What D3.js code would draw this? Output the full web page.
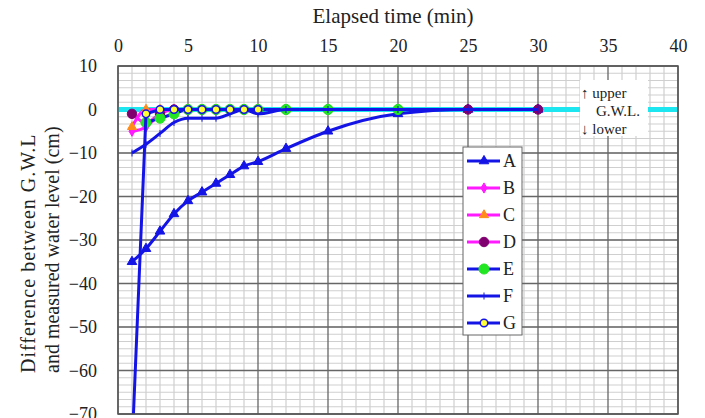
<!DOCTYPE html>
<html>
<head>
<meta charset="utf-8">
<script src="https://cdn.jsdelivr.net/npm/d3@7"></script>
<style>
  body { margin: 0; background: #fff; }
  text { font-family: "Liberation Serif", "Times New Roman", serif; fill: #222; }
</style>
</head>
<body>
<script>
// elapsed times (min) at which the level was read
var times = [1, 2, 3, 4, 5, 6, 7, 8, 9, 10, 12, 15, 20, 25, 30];

// difference between G.W.L and measured level (cm), null = no reading
var seriesA = [-35, -32, -28, -24, -21, -19, -17, -15, -13, -12, -9, -5, -1, 0, 0];
var seriesB = [-5, -4, -1, 0, 0, null, null, null, null, null, null, null, null, null, null];
var seriesC = [-4, 0, 0, null, null, null, null, null, null, null, null, null, null, null, null];
var seriesD = [-1, -3, -1, 0, 0, 0, 0, 0, 0, 0, 0, 0, 0, 0, 0];
var seriesE = [null, -3, -2, -1, 0, 0, 0, 0, 0, 0, 0, 0, 0, null, null];
var seriesF = [-10, -8, -5.5, -3, -2, -2, -2, -1, 0, -1, 0, 0, 0, 0, 0];
var seriesG = [-78, -1, 0, 0, 0, 0, 0, 0, 0, 0, null, null, null, null, null];

var seriesNames = ["A", "B", "C", "D", "E", "F", "G"];
var xTicks = [0, 5, 10, 15, 20, 25, 30, 35, 40];
var yTicks = [10, 0, -10, -20, -30, -40, -50, -60, -70];

var W = 705, H = 418;
var pLeft = 118, pRight = 678, pTop = 66, pBottom = 414;

var svg = d3.select("body").append("svg")
    .attr("width", W)
    .attr("height", H);

var x = d3.scaleLinear().domain([0, 40]).range([pLeft, pRight]);
var y = d3.scaleLinear().domain([-70, 10]).range([pBottom, pTop]);

// look of each series
var styles = {
  A: {line: "#1414e6", marker: "triangle", fill: "#1414e6", stroke: "#1414e6", size: 40},
  B: {line: "#ff1aff", marker: "diamond", fill: "#ff1aff", stroke: "#ff1aff", size: 30},
  C: {line: "#ff1aff", marker: "triangle", fill: "#ff8c1a", stroke: "#ff8c1a", size: 36},
  D: {line: "#ff1aff", marker: "circle", fill: "#800070", stroke: "#800070", size: 70},
  E: {line: "#1414e6", marker: "circle", fill: "#22e622", stroke: "#22e622", size: 80},
  F: {line: "#1414e6", marker: "tick", fill: "#1414e6", stroke: "#1414e6", size: 20},
  G: {line: "#1414e6", marker: "circle", fill: "#ffff33", stroke: "#1414e6", size: 45}
};
var values = {A: seriesA, B: seriesB, C: seriesC, D: seriesD, E: seriesE, F: seriesF, G: seriesG};

// grid
var grid = svg.append("g");
var minorX = d3.range(0, 41, 1);
var minorY = d3.range(0, 49).map(function(i) { return -70 + i * 10 / 6; });
grid.selectAll(".my").data(minorY).enter().append("line")
    .attr("x1", pLeft).attr("x2", pRight)
    .attr("y1", function(d) { return y(d); }).attr("y2", function(d) { return y(d); })
    .attr("stroke", "#cfcfcf").attr("stroke-width", 1.2);
grid.selectAll(".mx").data(minorX).enter().append("line")
    .attr("x1", function(d) { return x(d); }).attr("x2", function(d) { return x(d); })
    .attr("y1", pTop).attr("y2", pBottom)
    .attr("stroke", function(d) { return d % 5 === 0 ? "#666" : "#cfcfcf"; })
    .attr("stroke-width", function(d) { return d % 5 === 0 ? 1.3 : 1.2; });
grid.selectAll(".My").data(yTicks).enter().append("line")
    .attr("x1", pLeft).attr("x2", pRight)
    .attr("y1", function(d) { return y(d); }).attr("y2", function(d) { return y(d); })
    .attr("stroke", "#666").attr("stroke-width", 1.3);

// G.W.L. reference line
svg.append("line")
    .attr("x1", x(0)).attr("x2", x(40))
    .attr("y1", y(0)).attr("y2", y(0))
    .attr("stroke", "#1ee6f0").attr("stroke-width", 5);

svg.append("clipPath").attr("id", "plot")
  .append("rect").attr("x", pLeft).attr("y", pTop)
  .attr("width", pRight - pLeft).attr("height", pBottom - pTop);

var plot = svg.append("g").attr("clip-path", "url(#plot)");

function lineFor(name) {
  return d3.line()
    .defined(function(d) { return d[1] !== null; })
    .x(function(d) { return x(d[0]); })
    .y(function(d) { return y(d[1]); })
    .curve(name === "G" ? d3.curveLinear : d3.curveMonotoneX);
}

function symbolOf(name) {
  var s = styles[name];
  if (s.marker === "triangle") return d3.symbol().type(d3.symbolTriangle).size(s.size)();
  if (s.marker === "diamond") return d3.symbol().type(d3.symbolDiamond).size(s.size)();
  if (s.marker === "tick") return "M0,-3.5L0,3.5";
  return d3.symbol().type(d3.symbolCircle).size(s.size)();
}

seriesNames.forEach(function(name) {
  var pts = times.map(function(t, i) { return [t, values[name][i]]; });
  var s = styles[name];
  plot.append("path")
      .datum(pts)
      .attr("fill", "none")
      .attr("stroke", s.line)
      .attr("stroke-width", 3)
      .attr("d", lineFor(name));
  plot.selectAll(".m" + name)
      .data(pts.filter(function(d) { return d[1] !== null; }))
      .enter().append("path")
      .attr("transform", function(d) { return "translate(" + x(d[0]) + "," + y(d[1]) + ")"; })
      .attr("d", symbolOf(name))
      .attr("fill", s.fill)
      .attr("stroke", s.stroke)
      .attr("stroke-width", name === "G" ? 1.5 : 1);
});

// plot border
svg.append("rect")
    .attr("x", pLeft).attr("y", pTop)
    .attr("width", pRight - pLeft).attr("height", pBottom - pTop)
    .attr("fill", "none").attr("stroke", "#555").attr("stroke-width", 1.5);

// axes (labels only)
var xAxis = d3.axisTop(x).tickValues(xTicks).tickSize(0).tickPadding(14);
var gx = svg.append("g").attr("transform", "translate(0," + pTop + ")").call(xAxis);
gx.select(".domain").remove();
gx.selectAll("text").attr("font-size", "18px").attr("font-family", "Liberation Serif").attr("fill", "#222");

var yAxis = d3.axisLeft(y).tickValues(yTicks).tickSize(0).tickPadding(21);
var gy = svg.append("g").attr("transform", "translate(" + pLeft + ",0)").call(yAxis);
gy.select(".domain").remove();
gy.selectAll("text").attr("font-size", "18px").attr("font-family", "Liberation Serif").attr("fill", "#222");

// titles
svg.append("text")
    .attr("x", 393).attr("y", 23)
    .attr("text-anchor", "middle")
    .attr("font-size", "21px")
    .text("Elapsed time (min)");

svg.append("text")
    .attr("transform", "translate(35,373) rotate(-90)")
    .attr("font-size", "20px")
    .attr("letter-spacing", "1px")
    .text("Difference between G.W.L");
svg.append("text")
    .attr("transform", "translate(59,373) rotate(-90)")
    .attr("font-size", "20px")
    .text("and measured water level (cm)");

// upper / lower note over the G.W.L. line
svg.append("rect")
    .attr("x", 580).attr("y", 80).attr("width", 68).attr("height", 56)
    .attr("fill", "#fff");
var note = svg.append("text").attr("font-size", "15px");
note.append("tspan").attr("x", 581).attr("y", 98).text("\u2191 upper");
note.append("tspan").attr("x", 596).attr("y", 116).text("G.W.L.");
note.append("tspan").attr("x", 581).attr("y", 134).text("\u2193 lower");

// legend
var lg = svg.append("g");
lg.append("rect")
    .attr("x", 463).attr("y", 147).attr("width", 59).attr("height", 188)
    .attr("fill", "#fff").attr("stroke", "#666").attr("stroke-width", 1);
seriesNames.forEach(function(name, i) {
  var s = styles[name];
  var cy = 161 + i * 27;
  lg.append("line")
      .attr("x1", 467).attr("x2", 500).attr("y1", cy).attr("y2", cy)
      .attr("stroke", s.line).attr("stroke-width", 3);
  lg.append("path")
      .attr("transform", "translate(484," + cy + ")")
      .attr("d", symbolOf(name))
      .attr("fill", s.fill).attr("stroke", s.stroke)
      .attr("stroke-width", name === "G" ? 1.5 : 1);
  lg.append("text")
      .attr("x", 503).attr("y", cy + 6)
      .attr("font-size", "18px")
      .text(name);
});
</script>
</body>
</html>
